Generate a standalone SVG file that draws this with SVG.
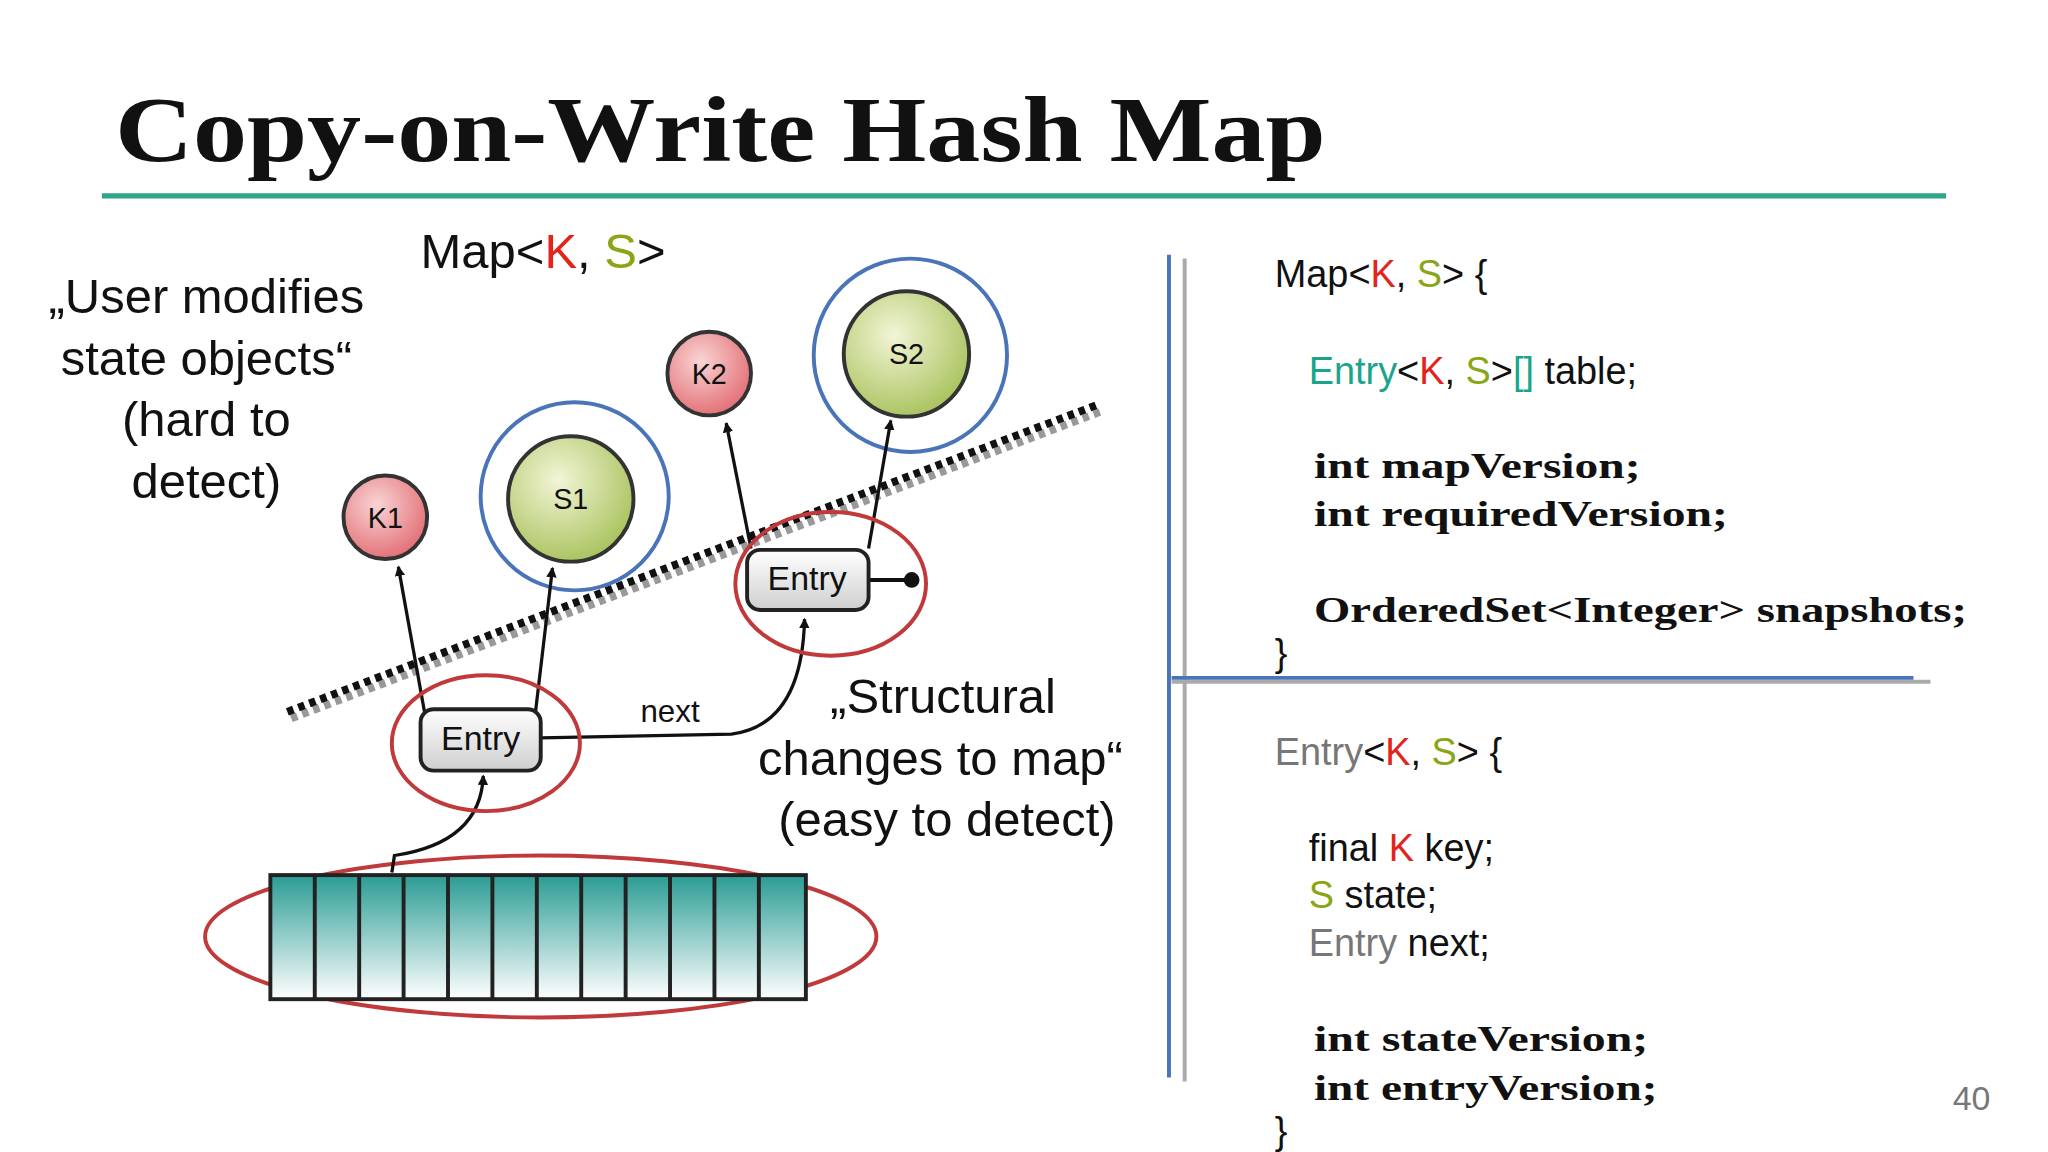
<svg xmlns="http://www.w3.org/2000/svg" width="2048" height="1152" viewBox="0 0 2048 1152">
<defs>
<style>
.s{font-family:"Liberation Sans",Arial,sans-serif;fill:#111}
.b{font-family:"Liberation Serif",serif;font-weight:bold;fill:#111}
.k{fill:#e3231c}.sv{fill:#8aa515}.e{fill:#1aa58a}.g{fill:#777}
.red{fill:none;stroke:#c0393b;stroke-width:3}
.blue{fill:none;stroke:#4a74b8;stroke-width:3}
.ar{stroke:#111;stroke-width:2.5;fill:none;marker-end:url(#ah)}
</style>
<marker id="ah" markerWidth="8" markerHeight="8" refX="7" refY="4" orient="auto" markerUnits="userSpaceOnUse"><path d="M0,0L8,4L0,8z" fill="#111"/></marker>
<radialGradient id="pk" cx="0.4" cy="0.35" r="0.7"><stop offset="0" stop-color="#f9d4d4"/><stop offset="1" stop-color="#e26b72"/></radialGradient>
<radialGradient id="gr" cx="0.4" cy="0.35" r="0.7"><stop offset="0" stop-color="#f2f5d6"/><stop offset="1" stop-color="#a7c15a"/></radialGradient>
<linearGradient id="tl" x1="0" y1="0" x2="0" y2="1"><stop offset="0" stop-color="#2a9c94"/><stop offset="1" stop-color="#ffffff"/></linearGradient>
<linearGradient id="en" x1="0" y1="0" x2="0" y2="1"><stop offset="0" stop-color="#ffffff"/><stop offset="1" stop-color="#cfcfcf"/></linearGradient>
</defs>
<rect width="2048" height="1152" fill="#fff"/>
<g transform="scale(1.30612)">
<g id="title"><text class="b" x="88" y="123" font-size="72" textLength="927" lengthAdjust="spacingAndGlyphs">Copy-on-Write Hash Map</text>
<line x1="78" y1="150" x2="1490" y2="150" stroke="#2fa58a" stroke-width="4"/></g>
<g id="left-text" class="s" font-size="37.5" text-anchor="middle">
<text x="158" y="240">„User modifies</text><text x="158" y="287">state objects“</text><text x="158" y="334">(hard to</text><text x="158" y="381">detect)</text></g>
<text class="s" x="322" y="205" font-size="37.5">Map&lt;<tspan class="k">K</tspan>, <tspan class="sv">S</tspan>&gt;</text>
<g id="divider">
<line x1="220" y1="545" x2="840" y2="310" stroke="#999" stroke-width="6" stroke-dasharray="5,4" transform="translate(3,5)"/>
<line x1="220" y1="545" x2="840" y2="310" stroke="#111" stroke-width="6" stroke-dasharray="5,4"/></g>
<g id="K1"><circle cx="295" cy="396" r="32" fill="url(#pk)" stroke="#333" stroke-width="3"/><text class="s" x="295" y="404" font-size="22" text-anchor="middle">K1</text></g>
<g id="S1"><circle cx="440" cy="380" r="72" class="blue"/><circle cx="437" cy="382" r="48" fill="url(#gr)" stroke="#333" stroke-width="3"/><text class="s" x="437" y="390" font-size="22" text-anchor="middle">S1</text></g>
<g id="K2"><circle cx="543" cy="286" r="32" fill="url(#pk)" stroke="#333" stroke-width="3"/><text class="s" x="543" y="294" font-size="22" text-anchor="middle">K2</text></g>
<g id="S2"><circle cx="697" cy="272" r="74" class="blue"/><circle cx="694" cy="271" r="48" fill="url(#gr)" stroke="#333" stroke-width="3"/><text class="s" x="694" y="279" font-size="22" text-anchor="middle">S2</text></g>
<g id="table">
<ellipse cx="414" cy="717" rx="257" ry="62" class="red"/>
<rect x="207" y="670" width="410" height="95" fill="url(#tl)" stroke="#222" stroke-width="3"/>
<path d="M241,670V765M275,670V765M309,670V765M343,670V765M377,670V765M411,670V765M445,670V765M479,670V765M513,670V765M547,670V765M581,670V765" stroke="#222" stroke-width="3"/>
</g>
<g id="connectors">
<path class="ar" d="M325,545L305,434"/>
<path class="ar" d="M410,545L423,435"/>
<path class="ar" d="M575,420L556,324"/>
<path class="ar" d="M665,420L682,322"/>
<path class="ar" d="M414,565L560,562Q614,555 616,474"/>
<path class="ar" d="M300,668L302,655Q368,645 370,594"/>
<path d="M665,444H698" stroke="#111" stroke-width="3"/><circle cx="698" cy="444" r="6" fill="#111"/>
<text class="s" x="513" y="553" font-size="24" text-anchor="middle">next</text>
</g>
<g id="Entry1"><ellipse cx="372" cy="569" rx="72" ry="52" class="red"/><rect x="322" y="543" width="92" height="47" rx="10" fill="url(#en)" stroke="#222" stroke-width="3"/><text class="s" x="368" y="574" font-size="26" text-anchor="middle">Entry</text></g>
<g id="Entry2"><ellipse cx="636" cy="447" rx="73" ry="55" class="red"/><rect x="572" y="421" width="93" height="46" rx="10" fill="url(#en)" stroke="#222" stroke-width="3"/><text class="s" x="618" y="452" font-size="26" text-anchor="middle">Entry</text></g>
<g id="struct-text" class="s" font-size="37.5" text-anchor="middle">
<text x="722" y="546">„Structural</text><text x="720" y="593">changes to map“</text><text x="725" y="640">(easy to detect)</text></g>
<g id="lines">
<line x1="895" y1="195" x2="895" y2="825" stroke="#4a74b8" stroke-width="3"/>
<line x1="907" y1="198" x2="907" y2="828" stroke="#aaa" stroke-width="3"/>
<line x1="897" y1="522" x2="1478" y2="522" stroke="#aaa" stroke-width="3"/>
<line x1="897" y1="519" x2="1465" y2="519" stroke="#4a74b8" stroke-width="3"/>
</g>
<g id="code" font-size="29">
<text class="s" x="976" y="220">Map&lt;<tspan class="k">K</tspan>, <tspan class="sv">S</tspan>&gt; {</text>
<text class="s" x="1002" y="294"><tspan class="e">Entry</tspan>&lt;<tspan class="k">K</tspan>, <tspan class="sv">S</tspan>&gt;<tspan class="e">[]</tspan> table;</text>
<text class="b" x="1006" y="366" font-size="28" textLength="250" lengthAdjust="spacingAndGlyphs">int mapVersion;</text>
<text class="b" x="1006" y="403" font-size="28" textLength="317" lengthAdjust="spacingAndGlyphs">int requiredVersion;</text>
<text class="b" x="1006" y="476" font-size="28" textLength="500" lengthAdjust="spacingAndGlyphs">OrderedSet&lt;Integer&gt; snapshots;</text>
<text class="s" x="976" y="510">}</text>
<text class="s" x="976" y="586"><tspan class="g">Entry</tspan>&lt;<tspan class="k">K</tspan>, <tspan class="sv">S</tspan>&gt; {</text>
<text class="s" x="1002" y="659">final <tspan class="k">K</tspan> key;</text>
<text class="s" x="1002" y="695"><tspan class="sv">S</tspan> state;</text>
<text class="s" x="1002" y="732"><tspan class="g">Entry</tspan> next;</text>
<text class="b" x="1006" y="805" font-size="28" textLength="256" lengthAdjust="spacingAndGlyphs">int stateVersion;</text>
<text class="b" x="1006" y="842" font-size="28" textLength="263" lengthAdjust="spacingAndGlyphs">int entryVersion;</text>
<text class="s" x="976" y="876">}</text>
<text class="s g" x="1495" y="850" font-size="26">40</text>
</g>
</g>
</svg>
